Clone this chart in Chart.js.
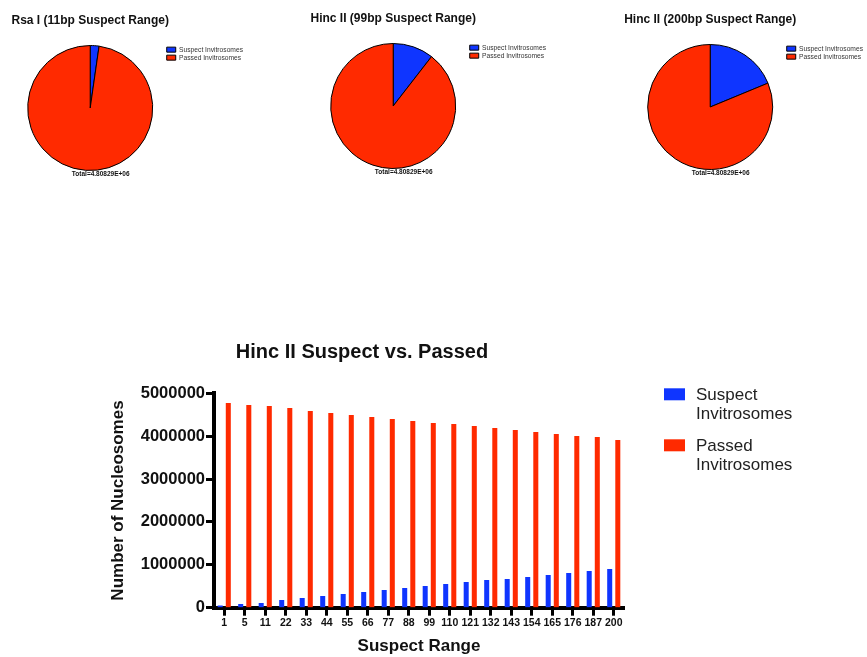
<!DOCTYPE html>
<html>
<head>
<meta charset="utf-8">
<title>Hinc II Suspect vs. Passed</title>
<script src="https://cdn.jsdelivr.net/npm/chart.js@4.4.0/dist/chart.umd.min.js"></script>
<style>
  html, body { margin: 0; padding: 0; background: #fff; overflow: hidden; }
  body { width: 867px; height: 657px; position: relative; }
  canvas { position: absolute; }
</style>
</head>
<body>
<canvas id="pie1"></canvas>
<canvas id="pie2"></canvas>
<canvas id="pie3"></canvas>
<canvas id="bars"></canvas>
<script>
// suspect range (bp) on the x axis
const ranges = ['1', '5', '11', '22', '33', '44', '55', '66', '77', '88', '99',
                '110', '121', '132', '143', '154', '165', '176', '187', '200'];
const suspect = [54000, 86000, 109000, 179000, 225000, 272000, 319000, 365000, 412000, 459000,
                 505000, 552000, 599000, 645000, 669000, 715000, 762000, 809000, 855000, 902000];
const passed = [4775000, 4728000, 4704000, 4658000, 4588000, 4541000, 4495000, 4448000, 4401000, 4355000,
                4308000, 4284000, 4238000, 4191000, 4145000, 4098000, 4051000, 4005000, 3981000, 3911000];
const yMax = 5000000;
const yStep = 1000000;

// the three pies at the top
const pieLabels = ['Suspect Invitrosomes', 'Passed Invitrosomes'];
const pieTitles = ['Rsa I (11bp Suspect Range)', 'Hinc II (99bp Suspect Range)', 'Hinc II (200bp Suspect Range)'];
const pieSuspect = [109000, 505000, 902000];
const piePassed = [4699290, 4303290, 3906290];
const pieTotal = 'Total=4.80829E+06';

const BLUE = '#0f35ff';
const RED = '#ff2a00';
const FONT = "'Liberation Sans', Arial, Helvetica, sans-serif";

Chart.defaults.font.family = FONT;
Chart.defaults.color = '#000';

// title above each pie and the total under it, both tied to the pie itself
const pieCaption = {
  id: 'pieCaption',
  afterDraw(chart, args, opts) {
    const arc = chart.getDatasetMeta(0).data[0];
    const { ctx } = chart;
    ctx.save();
    ctx.textAlign = 'center';
    ctx.textBaseline = 'middle';
    ctx.fillStyle = '#111';
    ctx.font = 'bold 12px ' + FONT;
    ctx.fillText(opts.title, arc.x, arc.y - arc.outerRadius - 25);
    ctx.font = 'bold 6.5px ' + FONT;
    ctx.fillText(opts.total, arc.x + 10.5, arc.y + arc.outerRadius + 3.5);
    ctx.restore();
  }
};

// pie canvases: centre x of each pie and a small vertical nudge
const pieCenters = [90, 393, 710];
const pieTops = [0, -2, -1];
const PIE_AREA = 151, PIE_PAD = 20, PIE_W = 258, PIE_H = 185;

function makePie(i) {
  const cv = document.getElementById('pie' + (i + 1));
  cv.width = PIE_W;
  cv.height = PIE_H;
  cv.style.left = Math.round(pieCenters[i] - PIE_AREA / 2 - PIE_PAD) + 'px';
  cv.style.top = pieTops[i] + 'px';
  new Chart(cv, {
    type: 'pie',
    data: {
      labels: pieLabels,
      datasets: [{
        data: [pieSuspect[i], piePassed[i]],
        backgroundColor: [BLUE, RED],
        borderColor: '#000',
        borderWidth: 1
      }]
    },
    options: {
      responsive: false,
      animation: false,
      layout: { padding: { top: 45, bottom: 14, left: PIE_PAD } },
      plugins: {
        pieCaption: { title: pieTitles[i], total: pieTotal },
        legend: {
          position: 'right',
          align: 'start',
          fullSize: false,
          labels: {
            boxWidth: 9,
            boxHeight: 5,
            padding: 1.3,
            color: '#333',
            font: { size: 6.7 }
          }
        },
        tooltip: { enabled: false }
      }
    },
    plugins: [pieCaption]
  });
}
[0, 1, 2].forEach(makePie);

// legend to the right of the bar chart, labels wrapped one word per line
const sideLegend = {
  id: 'sideLegend',
  afterDraw(chart) {
    const { ctx, chartArea } = chart;
    ctx.save();
    ctx.font = '17px ' + FONT;
    ctx.textBaseline = 'middle';
    chart.data.datasets.forEach((ds, i) => {
      const x = chartArea.right + 40;
      const y = chartArea.top - 5 + i * 51;
      ctx.fillStyle = ds.backgroundColor;
      ctx.fillRect(x, y, 21, 12);
      ctx.fillStyle = '#222';
      ds.label.split(' ').forEach((word, j) => ctx.fillText(word, x + 32, y + 7 + j * 19));
    });
    ctx.restore();
  }
};

const bars = document.getElementById('bars');
bars.width = 867;
bars.height = 334;
bars.style.left = '0px';
bars.style.top = '323px';

new Chart(bars, {
  type: 'bar',
  data: {
    labels: ranges,
    datasets: [
      { label: 'Suspect Invitrosomes', data: suspect, backgroundColor: BLUE,
        categoryPercentage: 0.79, barPercentage: 0.62 },
      { label: 'Passed Invitrosomes', data: passed, backgroundColor: RED,
        categoryPercentage: 0.79, barPercentage: 0.62 }
    ]
  },
  options: {
    responsive: false,
    animation: false,
    layout: { padding: { left: 100, right: 243, top: 0, bottom: 0 } },
    plugins: {
      legend: { display: false },
      tooltip: { enabled: false },
      title: {
        display: true,
        text: 'Hinc II Suspect vs. Passed',
        color: '#111',
        font: { size: 20, weight: 'bold' },
        padding: { top: 17, bottom: 29.3 }
      }
    },
    scales: {
      x: {
        z: 1,
        grid: { display: true, drawOnChartArea: false, offset: false,
                tickLength: 8, tickWidth: 3, tickColor: '#000' },
        border: { display: true, width: 4, color: '#000' },
        ticks: { color: '#111', font: { size: 10.5, weight: 'bold' }, padding: 1,
                 maxRotation: 0, autoSkip: false },
        title: { display: true, text: 'Suspect Range', color: '#111',
                 font: { size: 17, weight: 'bold' }, padding: { top: 0, bottom: 0 } },
        afterFit: s => { s.height = 49.3; }
      },
      y: {
        z: 1,
        min: 0,
        max: yMax,
        grid: { display: true, drawOnChartArea: false,
                tickLength: 8, tickWidth: 3, tickColor: '#000' },
        border: { display: true, width: 4, color: '#000' },
        ticks: { stepSize: yStep, color: '#111', font: { size: 16.5, weight: 'bold' }, padding: 1,
                 callback: v => String(v) },
        title: { display: true, text: 'Number of Nucleosomes', color: '#111',
                 font: { size: 17, weight: 'bold' }, padding: { top: 8, bottom: 0 } },
        afterFit: s => { s.width = 114; }
      }
    }
  },
  plugins: [sideLegend]
});
</script>
</body>
</html>
